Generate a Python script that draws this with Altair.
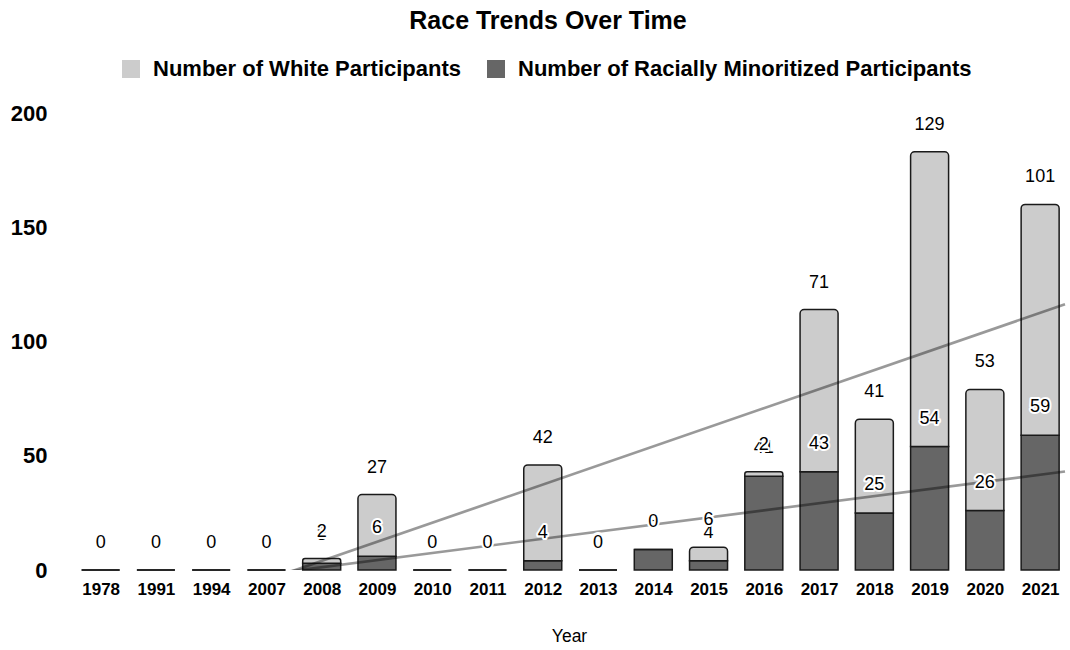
import altair as alt
import pandas as pd

# Participants per year, split by group
years = ["1978", "1991", "1994", "2007", "2008", "2009", "2010", "2011", "2012",
         "2013", "2014", "2015", "2016", "2017", "2018", "2019", "2020", "2021"]
white = [0, 0, 0, 0, 2, 27, 0, 0, 42, 0, 0, 6, 2, 71, 41, 129, 53, 101]
minority = [0, 0, 0, 0, 3, 6, 0, 0, 4, 0, 9, 4, 41, 43, 25, 54, 26, 59]
y_ticks = [0, 50, 100, 150, 200]

WHITE_LABEL = "Number of White Participants"
MIN_LABEL = "Number of Racially Minoritized Participants"

df = pd.DataFrame({"year": years, "white": white, "minority": minority})
df["idx"] = range(len(years))

label_expr = "[" + ",".join(f"'{y}'" for y in years) + "][datum.value]"

extent = [-0.5, len(years) - 0.55]
x_scale = alt.Scale(domain=extent, nice=False, zero=False)
y_scale = alt.Scale(domain=[0, 200], nice=False)

x_axis = alt.Axis(
    values=list(range(len(years))), labelExpr=label_expr, title="Year",
    grid=False, domain=False, ticks=False, labelFontSize=17,
    labelFontWeight="bold", labelPadding=11, labelColor="black",
    labelFlush=False, labelOverlap=False, titleFontSize=17.5,
    titleFontWeight="normal", titlePadding=30, titleColor="black",
)
y_axis = alt.Axis(
    values=y_ticks, title=None, grid=False, domain=False, ticks=False,
    labelFontSize=22, labelFontWeight="bold", labelPadding=21,
    labelColor="black",
)

X = alt.X("idx:Q", scale=x_scale, axis=x_axis)


def Y(field):
    return alt.Y(f"{field}:Q", scale=y_scale, axis=y_axis)


color_scale = alt.Scale(domain=[WHITE_LABEL, MIN_LABEL],
                        range=["#cccccc", "#666666"])
legend = alt.Legend(
    orient="none", legendX=52, legendY=-55, direction="horizontal",
    title=None, symbolType="square", symbolSize=324, symbolStrokeWidth=0,
    labelFontSize=22, labelFontWeight="bold", labelColor="black",
    labelLimit=700, labelOffset=11, columnPadding=23, padding=0,
)
color = alt.Color("series:N", scale=color_scale, legend=legend)

base = alt.Chart(df).transform_calculate(total="datum.white + datum.minority")

dark = base.transform_calculate(series=f"'{MIN_LABEL}'").mark_bar(
    size=38, stroke="#1a1a1a", strokeWidth=1.5
).encode(x=X, y=Y("minority"), y2=alt.datum(0), color=color)

light = base.transform_calculate(series=f"'{WHITE_LABEL}'").mark_bar(
    size=38, stroke="#1a1a1a", strokeWidth=1.5,
    cornerRadiusTopLeft=4, cornerRadiusTopRight=4
).encode(x=X, y=Y("total"), y2="minority:Q", color=color)

# Linear trend of the stack total and of the minoritized count
trend_total = base.transform_regression("idx", "total", extent=extent).mark_line(
    color="black", opacity=0.4, strokeWidth=2.7, clip=True
).encode(x=X, y=Y("total"))
trend_min = base.transform_regression("idx", "minority", extent=extent).mark_line(
    color="black", opacity=0.4, strokeWidth=2.7, clip=True
).encode(x=X, y=Y("minority"))


def labels(field, text_field, dy):
    halo = base.mark_text(
        fontSize=18, baseline="middle", dy=dy, color="white",
        stroke="white", strokeWidth=4, strokeJoin="round"
    ).encode(x=X, y=Y(field), text=f"{text_field}:Q")
    txt = base.mark_text(
        fontSize=18, baseline="middle", dy=dy, color="black"
    ).encode(x=X, y=Y(field), text=f"{text_field}:Q")
    return [halo, txt]


chart = alt.layer(
    dark, light, trend_total, trend_min,
    *labels("minority", "minority", -28),
    *labels("total", "white", -27),
).properties(
    width=1002,
    height=457,
    autosize=alt.AutoSizeParams(type="none"),
    padding={"left": 68, "top": 113, "right": 0, "bottom": 80},
    background="white",
    view=alt.ViewBackground(stroke="transparent", strokeWidth=0),
    title=alt.Title("Race Trends Over Time", fontSize=25, fontWeight="bold",
                    anchor="middle", frame="group", dx=-21, offset=24,
                    color="black"),
).configure_view(
    stroke="transparent", strokeWidth=0
).configure_axis(
    domain=False, grid=False
).configure(font="Liberation Sans")

chart.save("out.html", embed_options={"renderer": "svg", "actions": False})
